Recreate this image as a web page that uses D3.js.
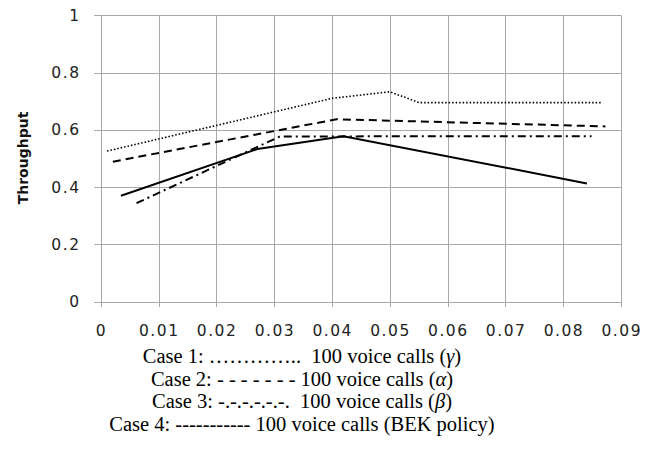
<!DOCTYPE html>
<meta charset="utf-8">
<style>
body { margin: 0; background: #fff; }
</style>
<svg id="chart" width="656" height="453"></svg>
<script src="https://d3js.org/d3.v7.min.js"></script>
<script>

// throughput vs. x
var case1 = [[0.0011, 0.526], [0.040, 0.710], [0.050, 0.733], [0.0551, 0.695], [0.0867, 0.695]];
var case2 = [[0.0021, 0.489], [0.0408, 0.637], [0.0873, 0.612]];
var case3 = [[0.0062, 0.344], [0.031, 0.577], [0.0849, 0.578]];
var case4 = [[0.0035, 0.370], [0.0271, 0.533], [0.042, 0.578], [0.0841, 0.413]];

var xTicks = [0, 0.01, 0.02, 0.03, 0.04, 0.05, 0.06, 0.07, 0.08, 0.09];
var yTicks = [0, 0.2, 0.4, 0.6, 0.8, 1];

var legendLines = [
	["Case 1: \u2026\u2026\u2026\u2026..\u00a0 100 voice calls (", "\u03b3", ")"],
	["Case 2: - - - - - - - 100 voice calls (", "\u03b1", ")"],
	["Case 3: -.-.-.-.-.-.\u00a0 100 voice calls (", "\u03b2", ")"],
	["Case 4: ----------- 100 voice calls (BEK policy)", "", ""]
];

var series = [
	{ data: case1, dash: "1.5,2", width: 1.6 },
	{ data: case2, dash: "8,5", width: 2 },
	{ data: case3, dash: "8,4,2,4", width: 2 },
	{ data: case4, dash: null, width: 2 }
];

var svg = d3.select("svg#chart");

var x = d3.scaleLinear().domain([0, 0.09]).range([100.7, 621]);
var y = d3.scaleLinear().domain([0, 1]).range([301.7, 15.3]);

var grid = svg.append("g");

// horizontal grid lines, extending a little left of the plot as ticks
grid.selectAll("line.h")
	.data(yTicks)
	.enter().append("line")
		.attr("x1", 94)
		.attr("x2", x(0.09))
		.attr("y1", function(d) { return Math.round(y(d)) + 0.5; })
		.attr("y2", function(d) { return Math.round(y(d)) + 0.5; })
		.attr("stroke", "#a8a8a8")
		.attr("stroke-width", 1);

// vertical grid lines, extending a little below the plot
grid.selectAll("line.v")
	.data(xTicks)
	.enter().append("line")
		.attr("x1", function(d) { return Math.round(x(d)) + 0.5; })
		.attr("x2", function(d) { return Math.round(x(d)) + 0.5; })
		.attr("y1", y(1))
		.attr("y2", 307)
		.attr("stroke", "#a8a8a8")
		.attr("stroke-width", 1);

svg.append("g").selectAll("text")
	.data(yTicks)
	.enter().append("text")
		.attr("x", 80.5)
		.attr("y", function(d) { return y(d); })
		.attr("dy", "0.36em")
		.attr("text-anchor", "end")
		.style("font-family", "DejaVu Sans")
		.style("font-size", "15.5px")
		.style("letter-spacing", "1.5px")
		.style("fill", "#222")
		.text(function(d) { return d3.format("")(d); });

svg.append("g").selectAll("text")
	.data(xTicks)
	.enter().append("text")
		.attr("x", function(d) { return x(d) + 0.75; })
		.attr("y", 336)
		.attr("text-anchor", "middle")
		.style("font-family", "DejaVu Sans")
		.style("font-size", "15.5px")
		.style("letter-spacing", "1.5px")
		.style("fill", "#222")
		.text(function(d) { return d === 0 ? "0" : d3.format(".2f")(d); });

svg.append("text")
	.attr("transform", "translate(28,158) rotate(-90)")
	.attr("text-anchor", "middle")
	.style("font-family", "DejaVu Sans")
	.style("font-weight", "bold")
	.style("font-size", "14px")
	.style("fill", "#111")
	.text("Throughput");

var line = d3.line()
	.x(function(d) { return x(d[0]); })
	.y(function(d) { return y(d[1]); });

svg.append("g").selectAll("path")
	.data(series)
	.enter().append("path")
		.attr("d", function(d) { return line(d.data); })
		.attr("fill", "none")
		.attr("stroke", "#000")
		.attr("stroke-width", function(d) { return d.width; })
		.attr("stroke-dasharray", function(d) { return d.dash; });

var legend = svg.append("g").selectAll("text")
	.data(legendLines)
	.enter().append("text")
		.attr("x", 302)
		.attr("y", function(d, i) { return 363 + i * 22.5; })
		.attr("text-anchor", "middle")
		.style("font-family", "Liberation Serif")
		.style("font-size", "20.5px")
		.style("fill", "#000");

legend.append("tspan").text(function(d) { return d[0]; });
legend.append("tspan").style("font-style", "italic").text(function(d) { return d[1]; });
legend.append("tspan").text(function(d) { return d[2]; });

</script>
